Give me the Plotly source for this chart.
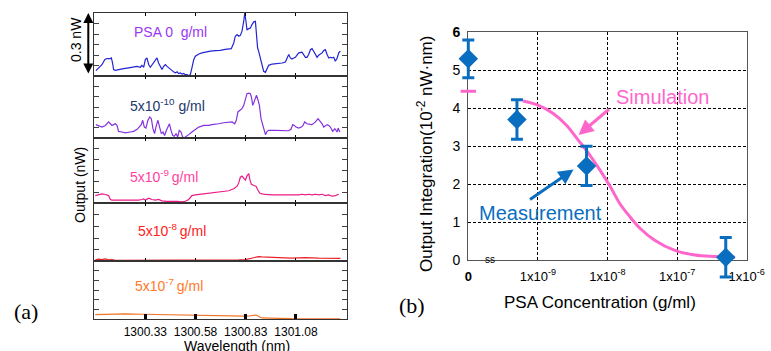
import plotly.graph_objects as go

W, H = 771, 351
FONT = "Liberation Sans, Arial, sans-serif"
SERIF = "Liberation Serif, Times New Roman, serif"

# ---------------- (a) spectra: wavelength (nm) / output (nW) ----------------
wl1 = [1300.084, 1300.098, 1300.114, 1300.128, 1300.139, 1300.156, 1300.161, 1300.167, 1300.172, 1300.181,
       1300.197, 1300.222, 1300.247, 1300.272, 1300.289, 1300.305, 1300.313, 1300.322, 1300.330, 1300.338,
       1300.347, 1300.355, 1300.363, 1300.380, 1300.388, 1300.396, 1300.405, 1300.413, 1300.421, 1300.430,
       1300.438, 1300.446, 1300.455, 1300.463, 1300.471, 1300.479, 1300.488, 1300.496, 1300.504, 1300.513,
       1300.521, 1300.529, 1300.538, 1300.546, 1300.554, 1300.562, 1300.571, 1300.579, 1300.596, 1300.612,
       1300.629, 1300.654, 1300.679, 1300.703, 1300.728, 1300.745, 1300.758, 1300.770, 1300.778, 1300.787,
       1300.795, 1300.803, 1300.811, 1300.820, 1300.825, 1300.831, 1300.836, 1300.845, 1300.853, 1300.861,
       1300.870, 1300.878, 1300.883, 1300.889, 1300.894, 1300.903, 1300.911, 1300.919, 1300.928, 1300.936,
       1300.944, 1300.961, 1300.986, 1301.011, 1301.027, 1301.036, 1301.044, 1301.052, 1301.060, 1301.069,
       1301.077, 1301.085, 1301.094, 1301.110, 1301.118, 1301.127, 1301.135, 1301.143, 1301.152, 1301.160,
       1301.168, 1301.177, 1301.185, 1301.193, 1301.210, 1301.218, 1301.226, 1301.235, 1301.243, 1301.251,
       1301.260, 1301.268, 1301.276, 1301.285, 1301.293, 1301.301]
out1 = [0.027, 0.040, 0.055, 0.079, 0.084, 0.084, 0.087, 0.063, 0.032, 0.028,
        0.032, 0.036, 0.040, 0.044, 0.047, 0.043, 0.052, 0.043, 0.079, 0.087,
        0.055, 0.043, 0.055, 0.079, 0.087, 0.063, 0.047, 0.032, 0.047, 0.055,
        0.047, 0.040, 0.032, 0.027, 0.021, 0.016, 0.021, 0.013, 0.016, 0.011,
        0.014, 0.008, 0.008, 0.003, 0.008, 0.040, 0.079, 0.095, 0.106, 0.111,
        0.115, 0.119, 0.122, 0.123, 0.128, 0.131, 0.131, 0.158, 0.190, 0.198,
        0.190, 0.194, 0.213, 0.261, 0.300, 0.261, 0.221, 0.226, 0.229, 0.245,
        0.258, 0.261, 0.198, 0.134, 0.119, 0.087, 0.055, 0.024, 0.019, 0.040,
        0.052, 0.058, 0.060, 0.063, 0.068, 0.087, 0.103, 0.087, 0.082, 0.087,
        0.090, 0.100, 0.111, 0.114, 0.103, 0.090, 0.090, 0.103, 0.126, 0.131,
        0.119, 0.103, 0.090, 0.100, 0.111, 0.122, 0.126, 0.103, 0.087, 0.090,
        0.087, 0.090, 0.071, 0.087, 0.111, 0.119]

wl2 = [1300.084, 1300.098, 1300.114, 1300.131, 1300.139, 1300.147, 1300.156, 1300.164, 1300.172, 1300.181,
       1300.189, 1300.197, 1300.214, 1300.230, 1300.255, 1300.272, 1300.289, 1300.297, 1300.310, 1300.317,
       1300.325, 1300.333, 1300.343, 1300.352, 1300.360, 1300.368, 1300.376, 1300.385, 1300.393, 1300.401,
       1300.410, 1300.418, 1300.426, 1300.435, 1300.443, 1300.450, 1300.458, 1300.466, 1300.474, 1300.483,
       1300.491, 1300.499, 1300.508, 1300.516, 1300.524, 1300.533, 1300.546, 1300.562, 1300.579, 1300.596,
       1300.621, 1300.645, 1300.662, 1300.679, 1300.695, 1300.720, 1300.745, 1300.762, 1300.775, 1300.783,
       1300.791, 1300.803, 1300.811, 1300.820, 1300.828, 1300.836, 1300.845, 1300.853, 1300.858, 1300.865,
       1300.871, 1300.878, 1300.883, 1300.889, 1300.898, 1300.906, 1300.914, 1300.923, 1300.928, 1300.936,
       1300.944, 1300.977, 1301.011, 1301.044, 1301.055, 1301.064, 1301.072, 1301.080, 1301.094, 1301.107,
       1301.115, 1301.123, 1301.135, 1301.143, 1301.152, 1301.160, 1301.177, 1301.190, 1301.198, 1301.210,
       1301.218, 1301.226, 1301.235, 1301.243, 1301.251, 1301.263, 1301.273, 1301.285, 1301.290, 1301.298]
out2 = [0.064, 0.060, 0.052, 0.060, 0.068, 0.077, 0.068, 0.060, 0.064, 0.068,
        0.060, 0.031, 0.028, 0.024, 0.028, 0.031, 0.041, 0.052, 0.064, 0.085,
        0.052, 0.047, 0.085, 0.101, 0.093, 0.044, 0.020, 0.060, 0.085, 0.052,
        0.020, 0.028, 0.011, 0.036, 0.052, 0.068, 0.036, 0.011, 0.007, 0.020,
        0.003, 0.036, 0.028, 0.003, 0.000, 0.008, 0.015, 0.028, 0.041, 0.052,
        0.060, 0.060, 0.064, 0.068, 0.068, 0.073, 0.077, 0.077, 0.068, 0.085,
        0.126, 0.134, 0.142, 0.158, 0.191, 0.215, 0.218, 0.215, 0.199, 0.158,
        0.174, 0.191, 0.207, 0.191, 0.158, 0.093, 0.060, 0.028, 0.015, 0.031,
        0.036, 0.036, 0.034, 0.034, 0.041, 0.064, 0.060, 0.052, 0.047, 0.052,
        0.060, 0.077, 0.068, 0.068, 0.065, 0.064, 0.077, 0.093, 0.085, 0.068,
        0.052, 0.060, 0.064, 0.060, 0.052, 0.031, 0.044, 0.028, 0.047, 0.028]

wl3 = [1300.081, 1300.098, 1300.114, 1300.131, 1300.147, 1300.156, 1300.164, 1300.197, 1300.230, 1300.264,
       1300.297, 1300.313, 1300.322, 1300.330, 1300.338, 1300.347, 1300.363, 1300.380, 1300.396, 1300.413,
       1300.438, 1300.463, 1300.488, 1300.513, 1300.529, 1300.546, 1300.554, 1300.562, 1300.579, 1300.596,
       1300.621, 1300.645, 1300.670, 1300.695, 1300.720, 1300.745, 1300.770, 1300.787, 1300.795, 1300.803,
       1300.811, 1300.820, 1300.828, 1300.836, 1300.845, 1300.850, 1300.858, 1300.870, 1300.881, 1300.889,
       1300.899, 1300.911, 1300.928, 1300.961, 1300.994, 1301.027, 1301.060, 1301.077, 1301.094, 1301.110,
       1301.127, 1301.143, 1301.160, 1301.177, 1301.193, 1301.210, 1301.226, 1301.243, 1301.260, 1301.276,
       1301.293]
out3 = [0.035, 0.040, 0.043, 0.040, 0.035, 0.017, 0.014, 0.014, 0.014, 0.012,
        0.014, 0.017, 0.020, 0.014, 0.020, 0.023, 0.017, 0.014, 0.017, 0.011,
        0.008, 0.009, 0.008, 0.006, 0.009, 0.017, 0.029, 0.035, 0.038, 0.040,
        0.043, 0.046, 0.047, 0.050, 0.054, 0.057, 0.066, 0.078, 0.093, 0.119,
        0.124, 0.116, 0.106, 0.124, 0.136, 0.109, 0.086, 0.081, 0.078, 0.063,
        0.047, 0.043, 0.040, 0.038, 0.038, 0.035, 0.035, 0.035, 0.038, 0.041,
        0.038, 0.041, 0.038, 0.041, 0.038, 0.041, 0.035, 0.038, 0.032, 0.035,
        0.041]

wl4 = [1300.081, 1300.098, 1300.114, 1300.131, 1300.147, 1300.164, 1300.181, 1300.214, 1300.264, 1300.330,
       1300.396, 1300.479, 1300.562, 1300.645, 1300.728, 1300.795, 1300.828, 1300.845, 1300.861, 1300.878,
       1300.894, 1300.911, 1300.944, 1300.994, 1301.060, 1301.127, 1301.193, 1301.260, 1301.301]
out4 = [0.006, 0.009, 0.007, 0.010, 0.006, 0.007, 0.004, 0.004, 0.003, 0.003,
        0.003, 0.003, 0.004, 0.004, 0.004, 0.006, 0.007, 0.010, 0.013, 0.017,
        0.020, 0.019, 0.017, 0.016, 0.014, 0.016, 0.014, 0.014, 0.013]

wl5 = [1300.081, 1300.147, 1300.230, 1300.313, 1300.396, 1300.479, 1300.562, 1300.645, 1300.728, 1300.795,
       1300.828, 1300.845, 1300.861, 1300.878, 1300.886, 1300.894, 1300.911, 1300.944, 1300.994, 1301.060,
       1301.094, 1301.143, 1301.226, 1301.301]
out5 = [0.024, 0.026, 0.028, 0.026, 0.024, 0.022, 0.021, 0.019, 0.016, 0.014,
        0.016, 0.017, 0.021, 0.022, 0.021, 0.014, 0.007, 0.005, 0.005, 0.003,
        0.002, 0.002, 0.002, 0.002]

panel_labels = ["PSA 0  g/ml", "5x10<sup>-10</sup> g/ml", "5x10<sup>-9 </sup>g/ml",
                "5x10<sup>-8 </sup>g/ml", "5x10<sup>-7 </sup>g/ml"]
panel_ymax = [0.30, 0.30, 0.30, 0.25, 0.30]
wl_ticks = [1300.33, 1300.58, 1300.83, 1301.08]
wl_ticktext = ["1300.33", "1300.58", "1300.83", "1301.08"]

# ---------------- (b) output integration vs PSA concentration ----------------
meas_conc = [0, 5e-10, 5e-9, 5e-7]          # g/ml
meas_val = [5.3, 3.7, 2.48, 0.07]           # 10^-2 nW.nm
meas_err = [0.5, 0.52, 0.52, 0.52]
sim_zero_val = 4.45
sim_conc = [6.1e-10, 1.0e-9, 1.66e-9, 2.57e-9, 3.8e-9, 5.6e-9, 7.8e-9, 1.1e-8, 1.5e-8,
            2.1e-8, 2.95e-8, 4.7e-8, 9.1e-8, 1.8e-7, 3.5e-7, 6.8e-7]
sim_val = [4.19, 4.08, 3.86, 3.55, 3.16, 2.76, 2.37, 1.93, 1.49,
           1.14, 0.83, 0.53, 0.26, 0.13, 0.09, 0.07]
conc_ticks = [1e-10, 1e-9, 1e-8, 1e-7, 1e-6]
conc_ticktext = ["<b>0</b>", "1x10<sup>-9</sup>", "1x10<sup>-8</sup>", "1x10<sup>-7</sup>", "1x10<sup>-6</sup>"]
int_ticks = [0, 1, 2, 3, 4, 5, 6]
int_ticktext = ["0", "1", "2", "3", "4", "5", "<b>6</b>"]
ZERO_POS = 1e-10   # where "0" concentration sits on the log axis

# ---------------- layout geometry (pixels) ----------------
def px(x): return x / W
def py(y): return 1 - y / H

LX0, LX1 = 94.3, 347.0
panel_edges = [13.0, 76.3, 137.7, 203.2, 261.3, 319.3]
RX0, RX1 = 468.3, 746.7
RY0, RY1 = 32.3, 260.0
XR = [-10, -6]
YR = [0, 6]
# overlay (unclipped) subplot with the same scale, extended by a margin in data units
PADX, PADY_LO, PADY_HI = 0.25, 1.0, 0.5
dpx = (RX1 - RX0) / (XR[1] - XR[0])
dpy = (RY1 - RY0) / (YR[1] - YR[0])

line_colors = ["#2323d6", "#8431e0", "#ec1a86", "#e8232a", "#f07428"]
text_colors = ["#9a35f2", "#22386e", "#ff3fa0", "#ff2222", "#ff7a2a"]
label_py = [31.5, 105.3, 175.7, 229.7, 285.3]
label_px = [170.3, 167.8, 164.2, 171.7, 169.0]

fig = go.Figure()
spectra = [(wl1, out1), (wl2, out2), (wl3, out3), (wl4, out4), (wl5, out5)]
for i, (wl, out) in enumerate(spectra):
    n = "" if i == 0 else str(i + 1)
    fig.add_trace(go.Scatter(x=wl, y=out, mode="lines", xaxis="x" + n, yaxis="y" + n,
                             line=dict(color=line_colors[i], width=1.2), showlegend=False,
                             hoverinfo="skip"))

fig.add_trace(go.Scatter(x=sim_conc, y=sim_val, mode="lines", xaxis="x6", yaxis="y6",
                         line=dict(color="#ff66cc", width=3, shape="spline"), showlegend=False))
fig.add_trace(go.Scatter(x=[ZERO_POS], y=[sim_zero_val], mode="markers", xaxis="x7", yaxis="y7",
                         marker=dict(symbol="line-ew", size=11, line=dict(color="#ff66cc", width=3)),
                         showlegend=False))
fig.add_trace(go.Scatter(x=[c if c > 0 else ZERO_POS for c in meas_conc], y=meas_val,
                         mode="markers", xaxis="x7", yaxis="y7",
                         marker=dict(symbol="diamond", size=15, color="#0a6ec0"),
                         error_y=dict(type="data", array=meas_err, color="#0a6ec0", thickness=3, width=6),
                         showlegend=False))

layout = dict(width=W, height=H, margin=dict(l=0, r=0, t=0, b=0, pad=0, autoexpand=False),
              paper_bgcolor="white", plot_bgcolor="rgba(0,0,0,0)",
              font=dict(family=FONT, color="black", size=14), showlegend=False)

for i in range(5):
    n = "" if i == 0 else str(i + 1)
    top, bot = panel_edges[i], panel_edges[i + 1]
    last = i == 4
    ymax = panel_ymax[i]
    yt = [round(0.05 * k, 2) for k in range(1, int(round(ymax / 0.05)))]
    layout["xaxis" + n] = dict(domain=[px(LX0), px(LX1)], anchor="y" + n, range=[1300.076, 1301.334],
                               showgrid=False, zeroline=False, showline=True, linecolor="#333",
                               linewidth=1.3, mirror=True if last else "ticks", automargin=False,
                               ticks="inside", tickvals=wl_ticks, ticktext=wl_ticktext,
                               ticklen=5 if last else 3, tickwidth=3 if last else 1,
                               tickcolor="black", showticklabels=last, ticklabelstandoff=1,
                               tickfont=dict(size=12, family=FONT),
                               **({} if i == 0 else {"matches": "x"}))
    layout["yaxis" + n] = dict(domain=[py(bot), py(top)], anchor="x" + n, range=[0, ymax],
                               showgrid=False, zeroline=False, showline=True, linecolor="#333",
                               linewidth=1.3, mirror="ticks", ticks="inside", tickvals=yt,
                               ticklen=5, tickwidth=1, tickcolor="#444", showticklabels=False,
                               automargin=False)

layout["xaxis6"] = dict(domain=[px(RX0), px(RX1)], anchor="y6", type="log", range=XR,
                        tickvals=conc_ticks, ticktext=conc_ticktext, ticks="",
                        showgrid=True, gridcolor="black", gridwidth=1, griddash="3px,2px",
                        zeroline=False, showline=True, linecolor="#555", linewidth=1.3, mirror=True,
                        tickfont=dict(size=13, family=FONT), ticklabelstandoff=4, automargin=False)
layout["yaxis6"] = dict(domain=[py(RY1), py(RY0)], anchor="x6", range=YR,
                        tickvals=int_ticks, ticktext=int_ticktext, ticks="",
                        showgrid=True, gridcolor="black", gridwidth=1, griddash="3px,2px",
                        zeroline=False, showline=True, linecolor="#555", linewidth=1.3, mirror=True,
                        tickfont=dict(size=14, family=FONT), ticklabelstandoff=4, automargin=False)
layout["xaxis7"] = dict(domain=[px(RX0 - PADX * dpx), px(RX1 + PADX * dpx)], anchor="y7", type="log",
                        range=[XR[0] - PADX, XR[1] + PADX], visible=False, automargin=False)
layout["yaxis7"] = dict(domain=[py(RY1 + PADY_LO * dpy), py(RY0 - PADY_HI * dpy)], anchor="x7",
                        range=[YR[0] - PADY_LO, YR[1] + PADY_HI], visible=False, automargin=False)


def label(x, y, text, size=14, color="black", family=FONT, angle=0):
    return dict(x=px(x), y=py(y), xref="paper", yref="paper", xanchor="center", yanchor="middle",
                text=text, showarrow=False, textangle=angle,
                font=dict(size=size, color=color, family=family))


def arrow(x, y, ax, ay, color, width, both=False):
    d = dict(x=px(x), y=py(y), xref="paper", yref="paper", text="", showarrow=True,
             ax=ax, ay=ay, arrowhead=2, arrowwidth=width, arrowsize=1, arrowcolor=color,
             xanchor="center", yanchor="middle")
    if both:
        d.update(startarrowhead=2, arrowside="end+start", startarrowsize=1)
    return d


ann = [label(label_px[i], label_py[i], panel_labels[i], 14, text_colors[i]) for i in range(5)]
ann += [
    arrow(88.3, 13, 0, 62, "black", 2, both=True),
    label(76, 40, "0.3 nW", 14, angle=-90),
    label(79.5, 185.5, "Output (nW)", 14, angle=-90),
    label(236.5, 346, "Wavelength (nm)", 14),
    label(25.5, 311.5, "(a)", 22, family=SERIF),
    label(412, 305, "(b)", 22, family=SERIF),
    label(425, 154, "Output Integration(10<sup>-2</sup> nW·nm)", 17, angle=-90),
    label(600, 302, "PSA Concentration (g/ml)", 17),
    label(490, 259, "ss", 10),
    label(662.5, 96.7, "Simulation", 20, "#ff66cc"),
    label(540.5, 213.3, "Measurement", 20, "#0a6ec0"),
    arrow(578.5, 135, 32, -27, "#ff66cc", 3),
    arrow(573.5, 169.5, -45, 31, "#0a6ec0", 3),
]
layout["annotations"] = ann
fig.update_layout(**layout)
fig.write_html("out.html")
